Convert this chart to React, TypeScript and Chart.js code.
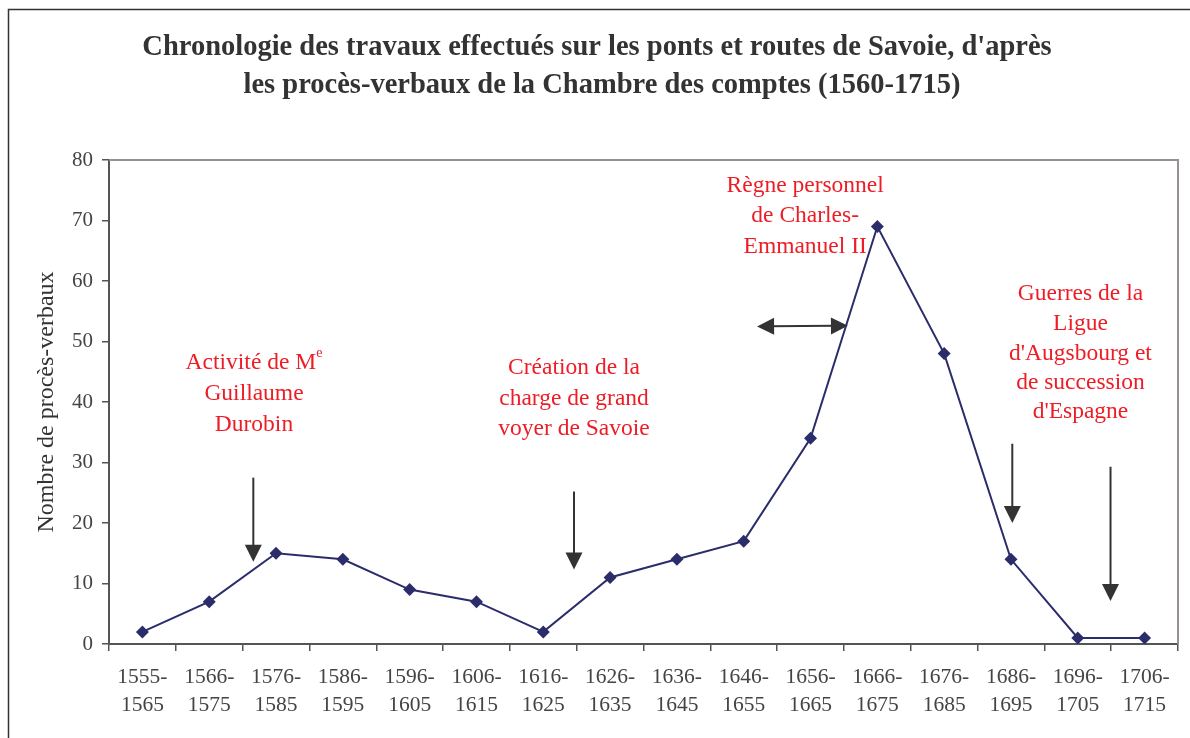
import React, { useEffect, useRef } from "react";
import { Chart, registerables } from "chart.js";

Chart.register(...registerables);

const categories: string[][] = [
  ["1555-", "1565"], ["1566-", "1575"], ["1576-", "1585"], ["1586-", "1595"],
  ["1596-", "1605"], ["1606-", "1615"], ["1616-", "1625"], ["1626-", "1635"],
  ["1636-", "1645"], ["1646-", "1655"], ["1656-", "1665"], ["1666-", "1675"],
  ["1676-", "1685"], ["1686-", "1695"], ["1696-", "1705"], ["1706-", "1715"],
];
const values: number[] = [2, 7, 15, 14, 9, 7, 2, 11, 14, 17, 34, 69, 48, 14, 1, 1];

const titleLines: string[] = [
  "Chronologie des travaux effectués sur les ponts et routes de Savoie, d'après",
  "les procès-verbaux de la Chambre des comptes (1560-1715)",
];
const yTitle = "Nombre de procès-verbaux";

// annotations: x in category index units, y values for each line
const notes = [
  { x: 1.67, lines: ["Activité de M", "Guillaume", "Durobin"], sup: "e", y: [46.4, 41.3, 36.2] },
  { x: 6.46, lines: ["Création de la", "charge de grand", "voyer de Savoie"], sup: "", y: [45.6, 40.5, 35.5] },
  { x: 9.92, lines: ["Règne personnel", "de Charles-", "Emmanuel II"], sup: "", y: [75.7, 70.7, 65.7] },
  { x: 14.04, lines: ["Guerres de la", "Ligue", "d'Augsbourg et", "de succession", "d'Espagne"], sup: "", y: [57.9, 53.0, 48.0, 43.1, 38.3] },
];
// arrows: from (x1,y1) to (x2,y2), double-headed flag
const arrows = [
  { x1: 1.66, y1: 27.5, x2: 1.66, y2: 13.6, both: false },
  { x1: 6.46, y1: 25.2, x2: 6.46, y2: 12.3, both: false },
  { x1: 9.2, y1: 52.5, x2: 10.56, y2: 52.6, both: true },
  { x1: 13.02, y1: 33.1, x2: 13.02, y2: 20.0, both: false },
  { x1: 14.49, y1: 29.3, x2: 14.49, y2: 7.1, both: false },
];

const SERIF = "'Liberation Serif', 'DejaVu Serif', serif";
const NOTE_SIZE = 23.5;

function App() {
  const ref = useRef<HTMLCanvasElement | null>(null);
  useEffect(() => {
    if (!ref.current) return;
    const xPix = (chart: any, idx: number) => {
      const s = chart.scales.x;
      const a = s.getPixelForValue(0);
      const b = s.getPixelForValue(1);
      return a + (b - a) * idx;
    };
    const deco = {
      id: "deco",
      beforeDraw(chart: any) {
        const ctx = chart.ctx;
        ctx.save();
        ctx.fillStyle = "#fff";
        ctx.fillRect(0, 0, chart.width, chart.height);
        // outer frame
        ctx.strokeStyle = "#333";
        ctx.lineWidth = 1.5;
        ctx.beginPath();
        ctx.moveTo(8.5, chart.height + 2);
        ctx.lineTo(8.5, 9.5);
        ctx.lineTo(chart.width + 2, 9.5);
        ctx.stroke();
        // title
        ctx.fillStyle = "#333";
        ctx.font = "bold 28.5px " + SERIF;
        ctx.textAlign = "center";
        ctx.textBaseline = "middle";
        ctx.fillText(titleLines[0], 597, 48);
        ctx.fillText(titleLines[1], 602, 86);
        ctx.restore();
      },
      afterDatasetsDraw(chart: any) {
        const ctx = chart.ctx;
        const ca = chart.chartArea;
        const ys = chart.scales.y;
        ctx.save();
        // top/right border of plot
        ctx.strokeStyle = "#9a9090";
        ctx.lineWidth = 2;
        ctx.beginPath();
        ctx.moveTo(ca.left, ca.top);
        ctx.lineTo(ca.right, ca.top);
        ctx.lineTo(ca.right, ca.bottom);
        ctx.stroke();
        // notes
        const nf = NOTE_SIZE + "px " + SERIF;
        const sf = "14px " + SERIF;
        ctx.fillStyle = "#ee1c25";
        ctx.font = nf;
        ctx.textBaseline = "middle";
        notes.forEach((n) => {
          const cx = xPix(chart, n.x);
          n.lines.forEach((ln, i) => {
            const y = ys.getPixelForValue(n.y[i]);
            if (i === 0 && n.sup) {
              ctx.font = nf;
              const w = ctx.measureText(ln).width;
              ctx.font = sf;
              const ws = ctx.measureText(n.sup).width;
              const start = cx - (w + ws) / 2;
              ctx.textAlign = "left";
              ctx.font = nf;
              ctx.fillText(ln, start, y);
              ctx.font = sf;
              ctx.fillText(n.sup, start + w, y - 10);
              ctx.font = nf;
            } else {
              ctx.textAlign = "center";
              ctx.fillText(ln, cx, y);
            }
          });
        });
        // arrows
        ctx.strokeStyle = "#333";
        ctx.fillStyle = "#333";
        ctx.lineWidth = 2;
        const head = (tx: number, ty: number, ang: number) => {
          const L = 17, W = 8.5;
          ctx.beginPath();
          ctx.moveTo(tx, ty);
          ctx.lineTo(tx - L * Math.cos(ang) + W * Math.sin(ang), ty - L * Math.sin(ang) - W * Math.cos(ang));
          ctx.lineTo(tx - L * Math.cos(ang) - W * Math.sin(ang), ty - L * Math.sin(ang) + W * Math.cos(ang));
          ctx.closePath();
          ctx.fill();
        };
        arrows.forEach((a) => {
          const x1 = xPix(chart, a.x1), y1 = ys.getPixelForValue(a.y1);
          const x2 = xPix(chart, a.x2), y2 = ys.getPixelForValue(a.y2);
          const ang = Math.atan2(y2 - y1, x2 - x1);
          const sx = a.both ? x1 + 12 * Math.cos(ang) : x1;
          const sy = a.both ? y1 + 12 * Math.sin(ang) : y1;
          ctx.beginPath();
          ctx.moveTo(sx, sy);
          ctx.lineTo(x2 - 12 * Math.cos(ang), y2 - 12 * Math.sin(ang));
          ctx.stroke();
          head(x2, y2, ang);
          if (a.both) head(x1, y1, ang + Math.PI);
        });
        ctx.restore();
      },
    };

    const chart = new Chart(ref.current, {
      type: "line",
      data: {
        labels: categories as any,
        datasets: [
          {
            data: values,
            borderColor: "#2b2d6b",
            backgroundColor: "#2b2d6b",
            borderWidth: 2,
            pointStyle: "rectRot",
            pointRadius: 6.5,
            pointBorderWidth: 0,
            tension: 0,
          },
        ],
      },
      options: {
        animation: false,
        responsive: false,
        devicePixelRatio: 1,
        layout: { padding: { top: 160, left: 0, right: 12, bottom: 0 } },
        plugins: { legend: { display: false }, tooltip: { enabled: false }, title: { display: false } },
        scales: {
          x: {
            type: "category",
            offset: true,
            grid: { offset: true, drawOnChartArea: false, tickLength: 7, color: "#555", lineWidth: 1.5 },
            border: { color: "#555", width: 2 },
            ticks: {
              autoSkip: false,
              maxRotation: 0,
              padding: 12,
              color: "#444",
              font: { family: SERIF, size: 21.5, lineHeight: 1.3 },
            },
            afterFit: (s: any) => { s.height = 94; },
          },
          y: {
            min: 0,
            max: 80,
            ticks: { stepSize: 10, padding: 9, color: "#444", font: { family: SERIF, size: 21 } },
            grid: { drawOnChartArea: false, tickLength: 7, color: "#555", lineWidth: 1.5 },
            border: { color: "#555", width: 2 },
            title: {
              display: true,
              text: yTitle,
              color: "#333",
              font: { family: SERIF, size: 24 },
              padding: { top: 32, bottom: 0 },
            },
            afterFit: (s: any) => { s.width = 109; },
          },
        },
      },
      plugins: [deco],
    });
    return () => chart.destroy();
  }, []);
  return (
    <div style={{ position: "absolute", left: 0, top: 0, width: 1190, height: 738 }}>
      <canvas ref={ref} width={1190} height={738} style={{ display: "block", width: 1190, height: 738 }} />
    </div>
  );
}

export default App;
